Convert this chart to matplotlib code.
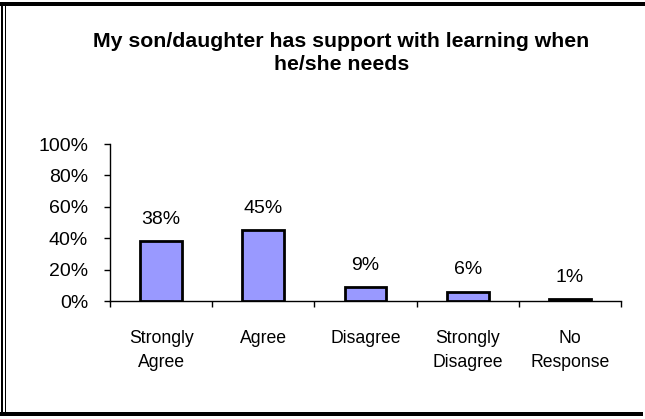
import numpy as np
import matplotlib.pyplot as plt
from matplotlib.lines import Line2D
from matplotlib.ticker import FixedLocator

plt.rcParams['font.family'] = ['Liberation Sans', 'DejaVu Sans']

# Data
categories = ["Strongly\nAgree", "Agree", "Disagree", "Strongly\nDisagree", "No\nResponse"]
values = [38, 45, 9, 6, 1]
title_lines = ["My son/daughter has support with learning when", "he/she needs"]

W, H = 645, 419
fig = plt.figure(figsize=(W / 100, H / 100), dpi=100)

# plot area in pixel coords of the reference
x0, x1 = 110, 621
y_top, y_base = 144, 301
ax = fig.add_axes([x0 / W, 1 - y_base / H, (x1 - x0) / W, (y_base - y_top) / H])

x = np.arange(len(categories))
ax.bar(x, values, width=0.41, color='#9999FF', edgecolor='black', linewidth=2.0, zorder=3)

for xi, v in zip(x, values):
    ax.annotate(f"{v}%", (xi, v), xytext=(0, 12.5), textcoords='offset points',
                ha='center', va='baseline', fontsize=14)

ax.set_xlim(-0.5, len(categories) - 0.5)
ax.set_ylim(0, 100)
ax.set_yticks(range(0, 101, 20))
ax.set_yticklabels([f"{t}%" for t in range(0, 101, 20)], fontsize=14)
ax.tick_params(axis='y', direction='out', length=4.3, width=1, pad=11.5)

ax.set_xticks(x)
ax.set_xticklabels(categories, fontsize=12.7, linespacing=1.55, va='top')
ax.xaxis.set_minor_locator(FixedLocator(np.arange(-0.5, len(categories), 1.0)))
ax.tick_params(axis='x', which='major', length=0, pad=21)
ax.tick_params(axis='x', which='minor', direction='out', length=4.3, width=1)

for s in ['top', 'right']:
    ax.spines[s].set_visible(False)
for s in ['left', 'bottom']:
    ax.spines[s].set_linewidth(1)
    ax.spines[s].set_color('black')

# title
fig.text(341.5 / W, 1 - 47 / H, title_lines[0], ha='center', va='baseline',
         fontsize=15.3, fontweight='bold')
fig.text(341.5 / W, 1 - 70 / H, title_lines[1], ha='center', va='baseline',
         fontsize=15.3, fontweight='bold')

# chart border (top, double left, bottom)
def px_line(xs, ys, lw_px):
    fig.add_artist(Line2D([v / W for v in xs], [1 - v / H for v in ys],
                          color='black', linewidth=lw_px * 0.72,
                          transform=fig.transFigure, solid_capstyle='butt'))

px_line([0, W], [4, 4], 4)
px_line([2, 2], [2, 416], 2)
px_line([4.5, 4.5], [2, 414], 1)
px_line([0, 643], [414, 414], 4)

fig.savefig('out.png', dpi=100)
